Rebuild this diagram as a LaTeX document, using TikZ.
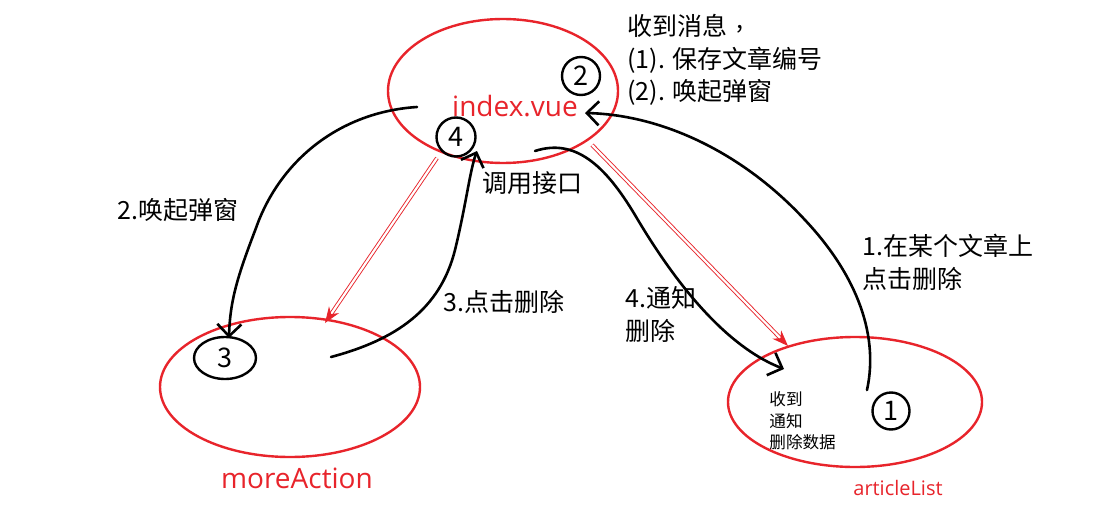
\documentclass[tikz,border=0pt]{standalone}
\usepackage{fontspec}
\setmainfont{Noto Sans CJK SC}
\newfontfamily\latinfont{Open Sans}
\usetikzlibrary{arrows.meta,shapes.geometric}
\definecolor{vred}{HTML}{E8242B}
\newcommand{\midcomma}{\makebox[1em][c]{\raisebox{0.3em}{,}}}
\begin{document}
\begin{tikzpicture}[x=0.5pt,y=-0.5pt,
  oval/.style={draw=vred, line width=1.2pt, ellipse, inner sep=0pt},
  lbl/.style={text=vred, font=\latinfont\fontsize{14}{16}\selectfont, inner sep=0pt},
  hc/.style={draw=black, line width=1.2pt, circle, inner sep=0pt, font=\fontsize{13.5}{14}\selectfont},
  txt/.style={anchor=west, inner sep=0pt, align=left, font=\fontsize{12.5}{16.5}\selectfont},
  smalltxt/.style={anchor=west, inner sep=0pt, align=left, font=\fontsize{8.3}{10.75}\selectfont},
  pen/.style={draw=black, line width=1.3pt, line cap=round, -{Straight Barb[length=6pt,width=12pt,line width=1.3pt]}},
  redarrow/.style={draw=vred, line width=0.45pt, double=white, double distance=1.1pt, -{Stealth[length=8pt,width=6pt,fill=vred]}}
]
\fill[white] (0,0) rectangle (1102,524);
\useasboundingbox (0,0) rectangle (1102,524);

% ellipses
\node[oval, minimum width=115pt, minimum height=72pt] (idx) at (503,91) {};
\node[oval, minimum width=130pt, minimum height=70pt] (more) at (290,387) {};
\node[oval, minimum width=127pt, minimum height=65pt] (art) at (855,402) {};

% red labels
\node[lbl] (idxl) at (515,106) {index.vue};
\node[lbl] (morel) at (297,478) {moreAction};
\node[lbl, font=\latinfont\fontsize{10}{12}\selectfont] (artl) at (898,488) {articleList};

% hand circles
\node[hc, minimum size=19pt] (c2) at (581,76) {2};
\node[hc, minimum size=19.5pt] (c4) at (456,137) {4};
\node[hc, ellipse, minimum width=31pt, minimum height=21pt] (c3) at (225,358) {3};
\node[hc, minimum size=18.5pt] (c1) at (891,411) {1};

% texts
\node[txt, anchor=base west] (msg1) at (627,36) {收到消息\midcomma};
\node[txt, anchor=base west] (msg2) at (627,69) {(1). 保存文章编号};
\node[txt, anchor=base west] (msg3) at (627,101) {(2). 唤起弹窗};
\node[txt] (call) at (482,183) {调用接口};
\node[txt] (t2) at (117,210) {2.唤起弹窗};
\node[txt] (t1) at (862,262) {1.在某个文章上\\点击删除};
\node[txt] (t3) at (443,302) {3.点击删除};
\node[txt] (t4) at (625,314) {4.通知\\删除};
\node[smalltxt] (recv) at (769,421) {收到\\通知\\删除数据};

% coordinates for free ends
\coordinate (p1s) at (867,390);
\coordinate (p1e) at (585,113);
\coordinate (p2s) at (417,107);
\coordinate (p2e) at (229,338);
\coordinate (p3s) at (331,357);
\coordinate (p3e) at (477,151);
\coordinate (p4s) at (535,151);
\coordinate (p4e) at (784,369);
\coordinate (r1s) at (437,158);
\coordinate (r1e) at (325,323);
\coordinate (r2s) at (592,145);
\coordinate (r2e) at (788,346);

% black hand-drawn arrows
\draw[pen] (p1s) .. controls (880,330) and (852,270) .. (805,220) .. controls (745,155) and (665,115) .. (p1e);
\draw[pen] (p2s) .. controls (340,112) and (280,160) .. (256,228) .. controls (238,275) and (230,300) .. (p2e);
\draw[pen] (p3s) .. controls (395,340) and (440,310) .. (455,250) .. controls (466,205) and (470,170) .. (p3e);
\draw[pen] (p4s) .. controls (575,138) and (605,165) .. (635,215) .. controls (685,300) and (735,350) .. (p4e);

% red double arrows
\draw[redarrow] (r1s) -- (r1e);
\draw[redarrow] (r2s) -- (r2e);
\end{tikzpicture}
\end{document}
